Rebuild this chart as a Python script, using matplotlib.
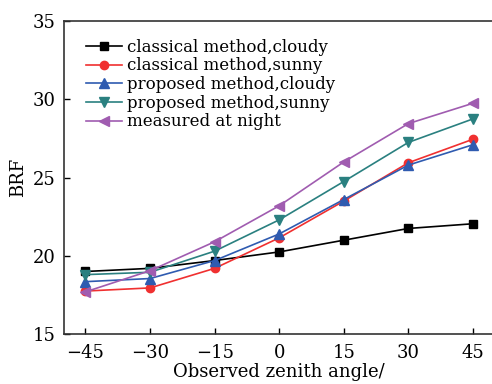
import matplotlib
matplotlib.use("Agg")
import matplotlib.pyplot as plt

# Beobachtungswinkel (Grad)
angles = [-45, -30, -15, 0, 15, 30, 45]

classical_cloudy = [19.0, 19.2, 19.7, 20.25, 21.0, 21.75, 22.05]
classical_sunny = [17.75, 17.95, 19.2, 21.15, 23.5, 25.95, 27.45]
proposed_cloudy = [18.35, 18.55, 19.7, 21.4, 23.6, 25.8, 27.1]
proposed_sunny = [18.8, 18.95, 20.3, 22.3, 24.75, 27.25, 28.75]
measured_night = [17.7, 19.05, 20.9, 23.2, 26.0, 28.45, 29.75]

labels = ["classical method,cloudy", "classical method,sunny",
          "proposed method,cloudy", "proposed method,sunny",
          "measured at night"]
colors = ["black", "#f03030", "#2f5bb0", "#2a8080", "#a05cb0"]
markers = ["s", "o", "^", "v", "<"]
msizes = [5.5, 6.0, 6.5, 6.5, 6.5]

plt.rcParams["font.family"] = ["DejaVu Serif"]

fig = plt.figure(figsize=(4.92, 3.84), dpi=100)
ax = fig.add_axes([0.130, 0.130, 0.875, 0.815])

series = [classical_cloudy, classical_sunny, proposed_cloudy,
          proposed_sunny, measured_night]
for vals, lab, col, mk, ms in zip(series, labels, colors, markers, msizes):
    ax.plot(angles, vals, color=col, marker=mk, markersize=ms,
            linewidth=1.2, label=lab)

ax.set_xlim(-50, 50)
ax.set_ylim(15, 35)
ax.set_xticks(angles)
ax.set_yticks([15, 20, 25, 30, 35])
ax.tick_params(direction="in", length=4, labelsize=13, width=1)
ax.tick_params(axis="x", pad=7)
ax.tick_params(axis="y", pad=6)
ax.spines["right"].set_visible(False)
for sp in ["left", "bottom", "top"]:
    ax.spines[sp].set_linewidth(1.2)
    ax.spines[sp].set_color("#333333")

ax.set_xlabel("Observed zenith angle/", fontsize=13, labelpad=1)
ax.set_ylabel("BRF", fontsize=13, labelpad=4)

ax.legend(loc="upper left", frameon=False, fontsize=12,
          handlelength=2.2, handletextpad=0.25, labelspacing=0.1,
          borderaxespad=0.0, bbox_to_anchor=(0.035, 0.965))

fig.savefig("out.png", dpi=100)
